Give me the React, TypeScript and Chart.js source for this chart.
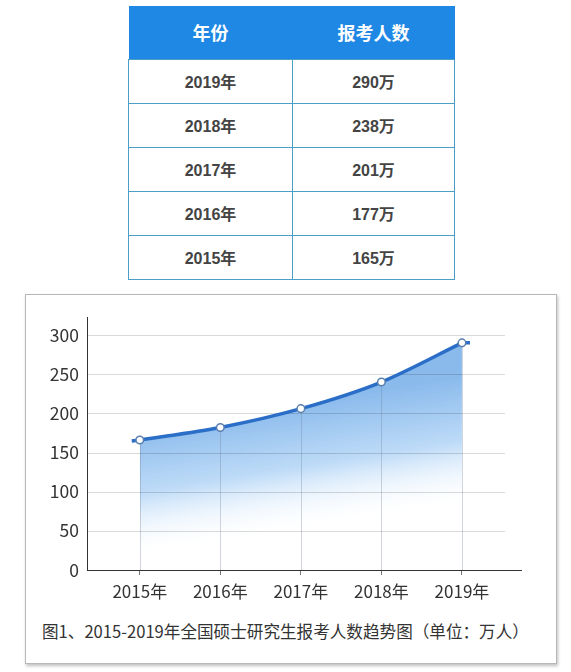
import { useRef, useEffect } from "react";
import { Chart, registerables } from "chart.js";

Chart.register(...registerables);

// table rows (top to bottom)
const tableYears = ["2019年", "2018年", "2017年", "2016年", "2015年"];
const tableCounts = ["290万", "238万", "201万", "177万", "165万"];

// chart series
const years = [2015, 2016, 2017, 2018, 2019];
const applicants = [166, 182, 206, 240, 290];
const yTicks = [0, 50, 100, 150, 200, 250, 300];

const caption = "图1、2015-2019年全国硕士研究生报考人数趋势图（单位：万人）";

const X_MIN = 2014.345;
const X_MAX = 2019.733;
const GRID_END = 2019.534;
const Y_MAX = 323;
const FONT = "'Noto Sans CJK SC', 'Noto Sans', sans-serif";

const decorPlugin = {
  id: "decor",
  beforeDatasetDraw(chart: any) {
    const { ctx, chartArea, scales } = chart;
    const x = scales.x;
    const y = scales.y;
    ctx.save();
    ctx.lineWidth = 1;
    // horizontal grid, stops short of the axis end
    ctx.strokeStyle = "rgba(0,0,0,0.15)";
    const gridEnd = x.getPixelForValue(GRID_END);
    yTicks.forEach((v) => {
      if (v === 0) return;
      const py = Math.round(y.getPixelForValue(v)) + 0.5;
      ctx.beginPath();
      ctx.moveTo(chartArea.left, py);
      ctx.lineTo(gridEnd, py);
      ctx.stroke();
    });
    // drop lines from each point
    const meta = chart.getDatasetMeta(0);
    ctx.strokeStyle = "rgba(110,125,150,0.32)";
    meta.data.forEach((pt: any) => {
      const px = Math.round(pt.x) + 0.5;
      ctx.beginPath();
      ctx.moveTo(px, pt.y);
      ctx.lineTo(px, chartArea.bottom);
      ctx.stroke();
    });
    // little line stubs past the end points
    const first = meta.data[0];
    const last = meta.data[meta.data.length - 1];
    ctx.strokeStyle = "#2a6ec7";
    ctx.lineWidth = 3.5;
    ctx.beginPath();
    ctx.moveTo(first.x - 8, first.y + 1);
    ctx.lineTo(first.x, first.y);
    ctx.moveTo(last.x, last.y);
    ctx.lineTo(last.x + 8, last.y);
    ctx.stroke();
    ctx.restore();
  },
};

const TrendChart = () => {
  const chartRef = useRef<HTMLCanvasElement | null>(null);
  const chartInstance = useRef<Chart | null>(null);

  useEffect(() => {
    if (!chartRef.current) return;
    const ctx = chartRef.current.getContext("2d");
    if (!ctx) return;

    chartInstance.current = new Chart(ctx, {
      type: "line",
      data: {
        datasets: [
          {
            label: "报考人数",
            data: years.map((yr, i) => ({ x: yr, y: applicants[i] })),
            borderColor: "#2a6ec7",
            borderWidth: 3.5,
            tension: 0.3,
            pointRadius: 3.8,
            pointBorderWidth: 1.5,
            pointBorderColor: "#5a7fae",
            pointBackgroundColor: "#ffffff",
            fill: "origin",
            backgroundColor: (context: any) => {
              const { chart } = context;
              const { chartArea, scales } = chart;
              if (!chartArea) return "transparent";
              // slightly tilted fade: reaches white lower on the left than on the right
              const g = chart.ctx.createLinearGradient(
                scales.x.getPixelForValue(2016.75),
                scales.y.getPixelForValue(210),
                scales.x.getPixelForValue(2017.0),
                scales.y.getPixelForValue(48)
              );
              g.addColorStop(0, "rgba(138,186,236,1)");
              g.addColorStop(0.5, "rgba(186,217,247,0.95)");
              g.addColorStop(1, "rgba(255,255,255,0)");
              return g;
            },
          },
        ],
      },
      options: {
        animation: false,
        responsive: false,
        maintainAspectRatio: false,
        layout: { padding: { top: 23, right: 36, left: 0, bottom: 0 } },
        plugins: {
          legend: { display: false },
          tooltip: { enabled: false },
        },
        scales: {
          x: {
            type: "linear",
            min: X_MIN,
            max: X_MAX,
            afterBuildTicks: (axis: any) => {
              axis.ticks = years.map((v) => ({ value: v }));
            },
            afterFit: (axis: any) => {
              axis.height = 44;
            },
            grid: {
              drawOnChartArea: false,
              drawTicks: true,
              tickLength: 5,
              color: "#777",
            },
            border: { display: true, color: "#333", width: 1 },
            ticks: {
              padding: 6,
              color: "#333",
              font: { family: FONT, size: 17 },
              callback: (value: any) => `${value}年`,
            },
          },
          y: {
            min: 0,
            max: Y_MAX,
            afterBuildTicks: (axis: any) => {
              axis.ticks = yTicks.map((v) => ({ value: v }));
            },
            afterFit: (axis: any) => {
              axis.width = 62;
            },
            grid: { display: false, drawTicks: false },
            border: { display: true, color: "#333", width: 1 },
            ticks: {
              padding: 8,
              color: "#333",
              font: { family: FONT, size: 17.5 },
            },
          },
        },
      },
      plugins: [decorPlugin],
    });

    return () => {
      if (chartInstance.current) {
        chartInstance.current.destroy();
        chartInstance.current = null;
      }
    };
  }, []);

  return <canvas ref={chartRef} width={532} height={320} style={{ display: "block" }} />;
};

const cellBorder = "1px solid #4b9ec6";

const DataTable = () => (
  <table
    style={{
      position: "absolute",
      left: 128,
      top: 6,
      width: 327,
      borderCollapse: "collapse",
      tableLayout: "fixed",
      fontFamily: "'Liberation Sans', 'Noto Sans CJK SC', sans-serif",
      fontWeight: "bold",
      fontSize: 16,
      color: "#444",
      textAlign: "center",
    }}
  >
    <thead>
      <tr style={{ height: 53, background: "#1f88e5", color: "#fff" }}>
        <th style={{ width: 164, fontSize: 18, fontFamily: FONT, padding: 0 }}>年份</th>
        <th style={{ fontSize: 18, fontFamily: FONT, padding: 0 }}>报考人数</th>
      </tr>
    </thead>
    <tbody>
      {tableYears.map((yr, i) => (
        <tr key={yr} style={{ height: 44 }}>
          <td style={{ border: cellBorder, padding: 0 }}>{yr}</td>
          <td style={{ border: cellBorder, padding: 0 }}>{tableCounts[i]}</td>
        </tr>
      ))}
    </tbody>
  </table>
);

const App = () => (
  <div style={{ position: "absolute", left: 0, top: 0, width: 571, height: 672, background: "#fff" }}>
    <DataTable />
    <div
      style={{
        position: "absolute",
        left: 25,
        top: 294,
        width: 532,
        height: 370,
        boxSizing: "border-box",
        border: "1px solid #b8b8b8",
        boxShadow: "1px 2px 3px rgba(0,0,0,0.25)",
      }}
    />
    <div style={{ position: "absolute", left: 25, top: 294 }}>
      <TrendChart />
    </div>
    <div
      style={{
        position: "absolute",
        left: 42,
        top: 620,
        fontFamily: FONT,
        fontSize: 16.6,
        lineHeight: "23px",
        color: "#333",
        whiteSpace: "nowrap",
      }}
    >
      {caption}
    </div>
  </div>
);

export default App;
